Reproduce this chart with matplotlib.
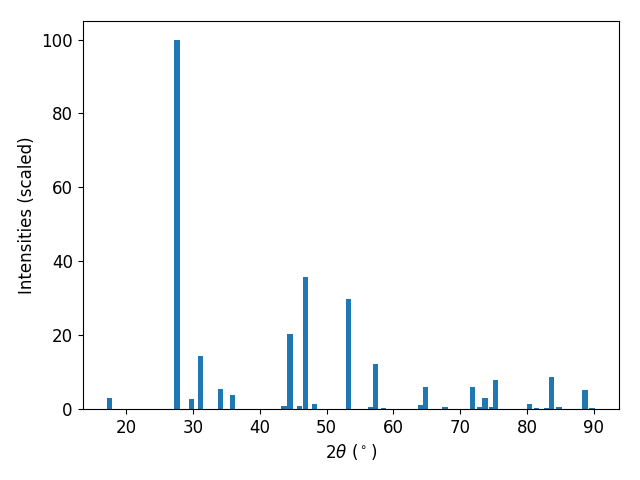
import matplotlib
matplotlib.use('Agg')
import matplotlib.pyplot as plt

# peak positions (2theta, degrees) and scaled intensities
two_theta = [17.5, 27.6, 29.8, 31.1, 34.1, 35.9,
             43.6, 44.5, 45.9, 46.8, 48.2, 53.3,
             56.6, 57.3, 58.5, 64.0, 64.8, 67.7,
             71.8, 72.9, 73.7, 74.7, 75.3, 80.4,
             81.4, 83.0, 83.7, 84.8, 88.7, 89.7]
intensities = [3.0, 100.0, 2.7, 14.3, 5.4, 3.8,
               0.8, 20.4, 0.8, 35.8, 1.4, 29.8,
               0.6, 12.2, 0.3, 1.1, 6.0, 0.5,
               5.9, 0.5, 3.0, 0.5, 7.9, 1.4,
               0.3, 0.3, 8.7, 0.5, 5.2, 0.3]

plt.rcParams['font.size'] = 12

fig, ax = plt.subplots(figsize=(6.4, 4.8), dpi=100)
ax.bar(two_theta, intensities)
ax.set_xlabel(r'2$\theta$ ($^\circ$)')
ax.set_ylabel('Intensities (scaled)')
fig.subplots_adjust(left=0.129, right=0.967, top=0.956, bottom=0.148)
plt.savefig('out.png', dpi=100)
